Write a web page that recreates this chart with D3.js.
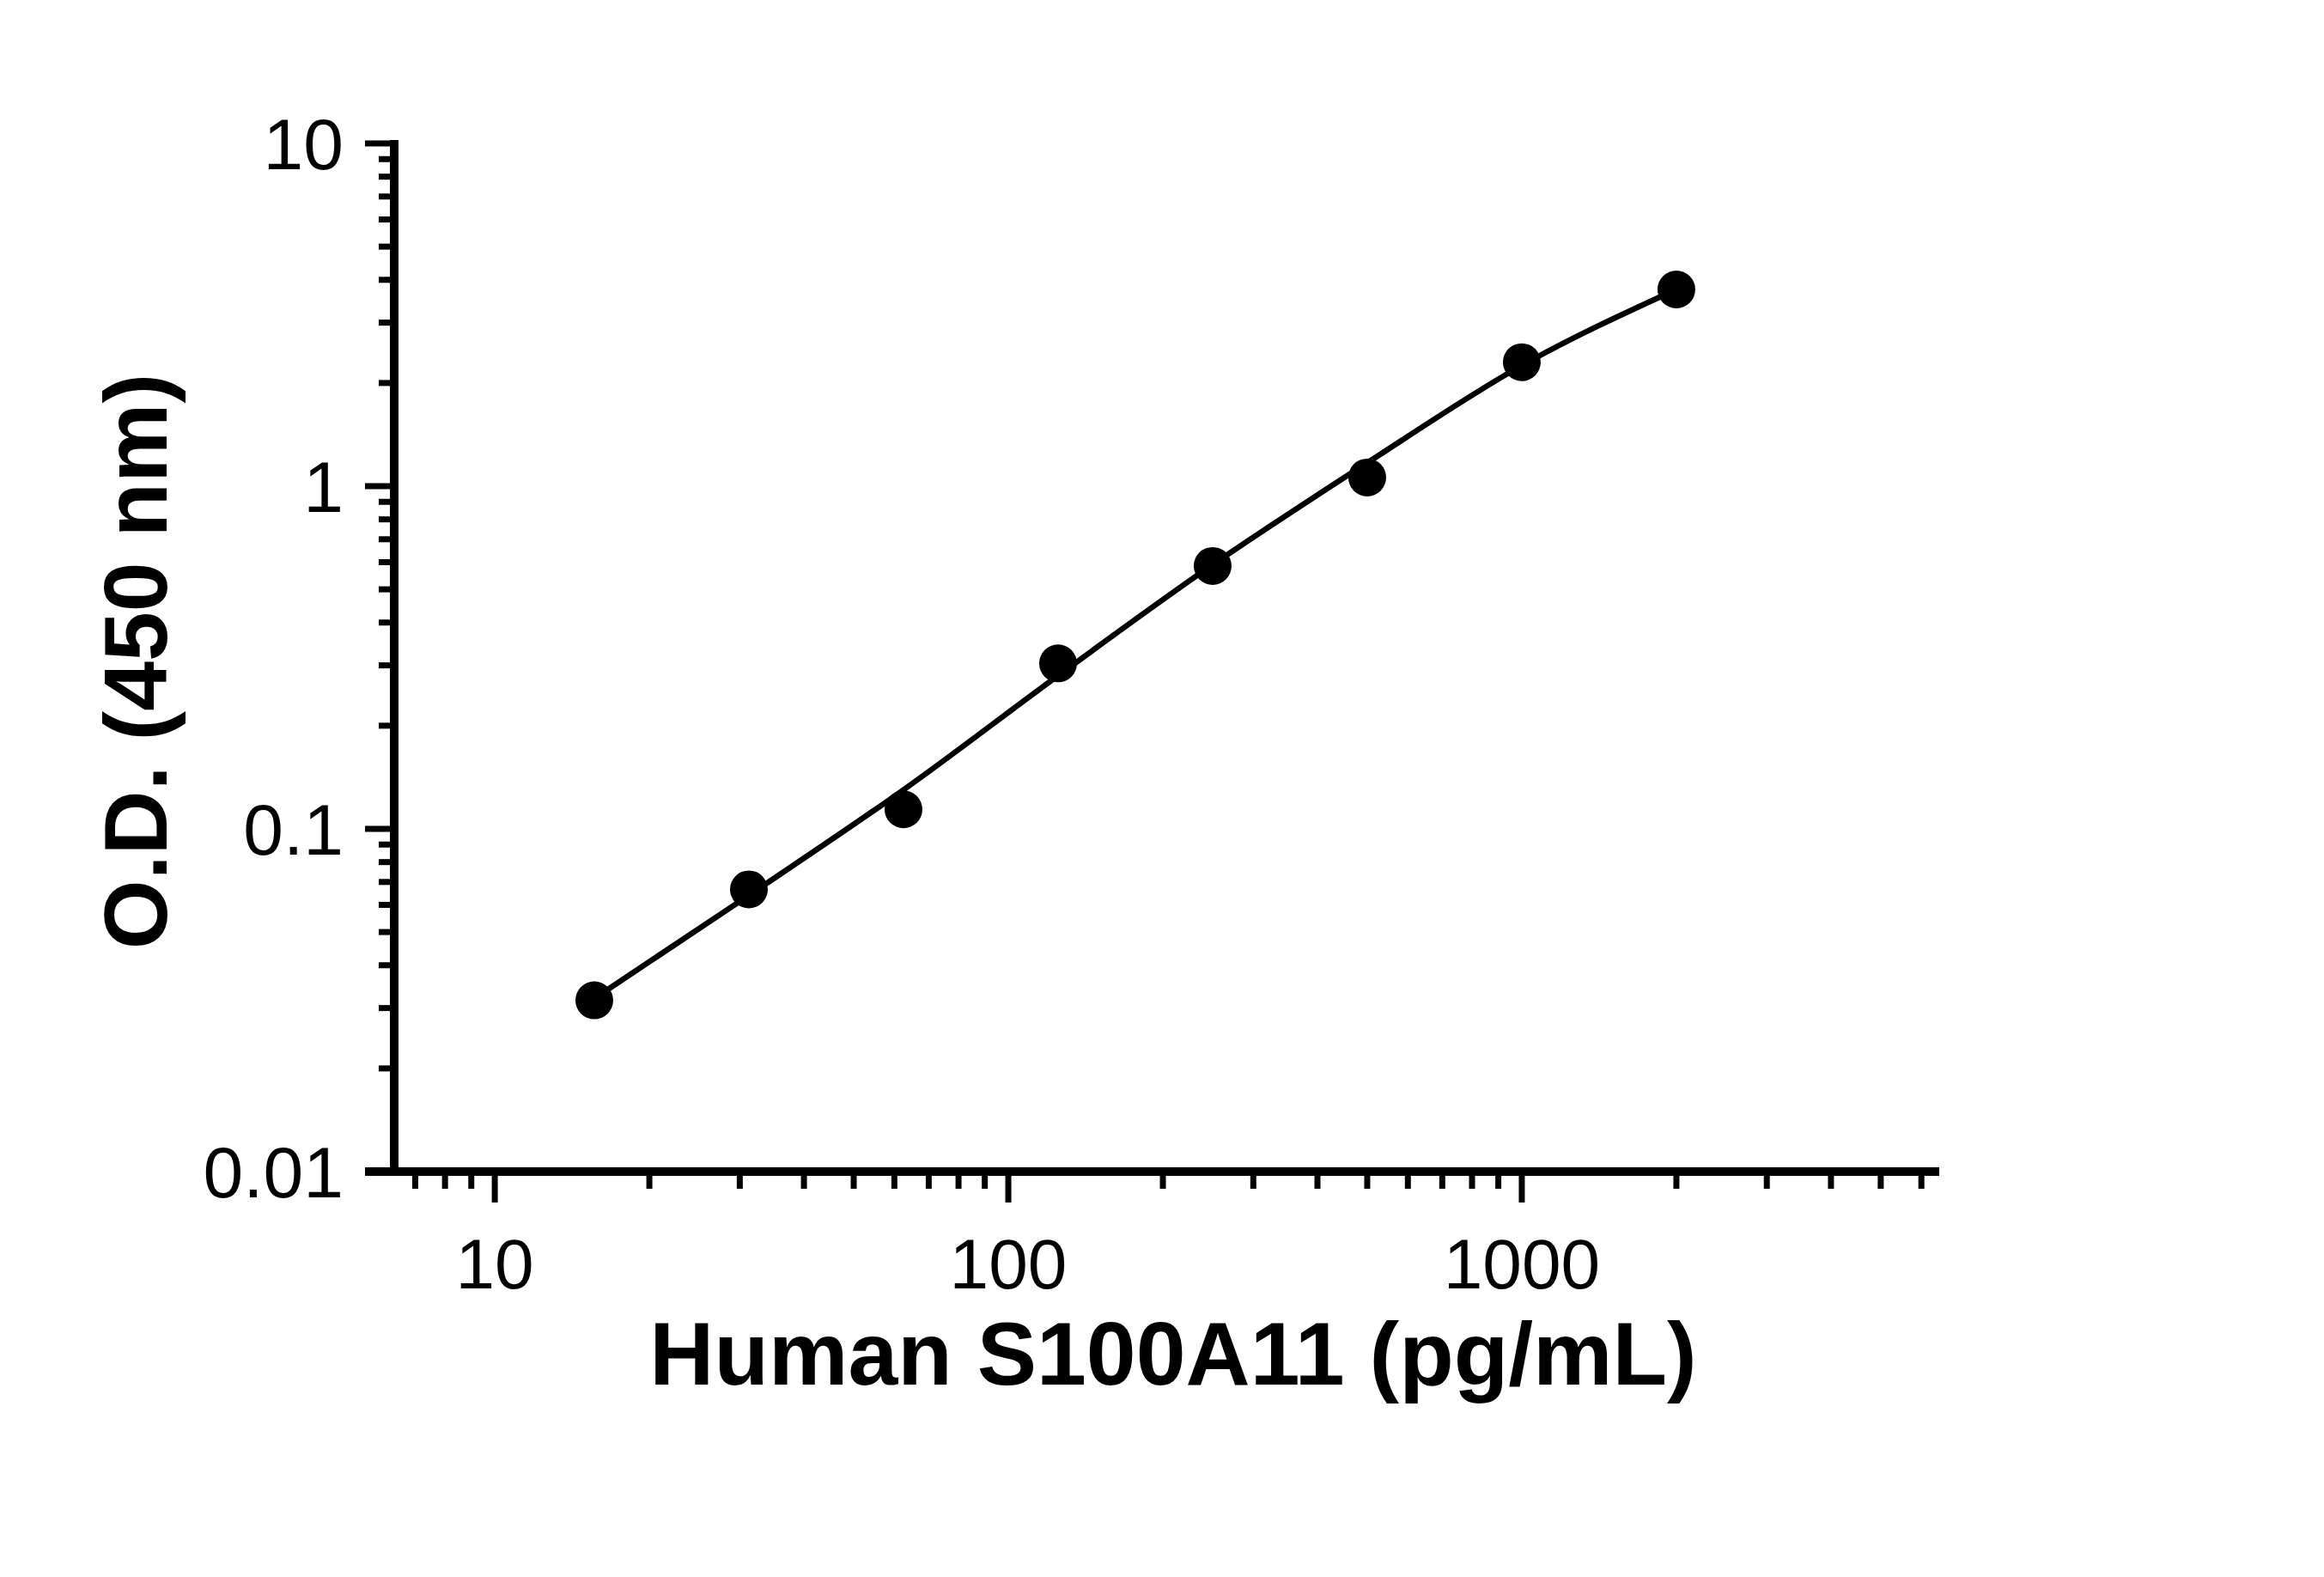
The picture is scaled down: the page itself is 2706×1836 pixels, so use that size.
<!DOCTYPE html>
<html><head><meta charset="utf-8">
<script src="https://cdn.jsdelivr.net/npm/d3@7"></script>
<style>body{margin:0;background:#fff}</style></head>
<body><svg id="c" width="2706" height="1836"></svg>
<script>
const conc = [15.625, 31.25, 62.5, 125, 250, 500, 1000, 2000];
const od = [0.0316, 0.0666, 0.114, 0.304, 0.585, 1.06, 2.30, 3.75];
const fitOD = [0.032, 0.064, 0.130, 0.28, 0.59, 1.17, 2.25, 3.75];
const xTickLabels = ["10", "100", "1000"];
const yTickLabels = ["0.01", "0.1", "1", "10"];
const xTitle = "Human S100A11 (pg/mL)";
const yTitle = "O.D. (450 nm)";

const svg = d3.select("#c");
const L = 459, R = 2258, T = 167, B = 1364;
const x = d3.scaleLog().domain([6.37, 6500]).range([L, R]);
const y = d3.scaleLog().domain([0.01, 10]).range([B, T]);
const font = "'Liberation Sans', Arial, sans-serif";

const xMinor = [];
for (let d = 1; d <= 1000; d *= 10) for (let m = 1; m < 10; m++) { const v = d * m; if (v >= 6.5 && v <= 6000) xMinor.push(v); }
const yMinor = [];
for (let d = 0.01; d < 10; d *= 10) for (let m = 1; m < 10; m++) yMinor.push(d * m);
yMinor.push(10);

const g = svg.append("g").attr("stroke", "#000");
g.selectAll(".xm").data(xMinor).join("line")
  .attr("x1", d => x(d)).attr("x2", d => x(d)).attr("y1", B)
  .attr("y2", d => xTickLabels.includes(String(d)) ? B + 36 : B + 20).attr("stroke-width", 7);
g.selectAll(".ym").data(yMinor).join("line")
  .attr("y1", d => y(d)).attr("y2", d => y(d)).attr("x1", L)
  .attr("x2", d => (Math.abs(Math.log10(d) - Math.round(Math.log10(d))) < 1e-6) ? L - 34 : L - 18).attr("stroke-width", 7);
g.append("line").attr("x1", L).attr("x2", L).attr("y1", T - 4).attr("y2", B + 4).attr("stroke-width", 10);
g.append("line").attr("x1", L - 34).attr("x2", R).attr("y1", B).attr("y2", B).attr("stroke-width", 10);

xTickLabels.forEach(t => {
  svg.append("text").attr("transform", `translate(${x(+t)},1500) scale(1.0,1)`)
    .attr("text-anchor", "middle").attr("font-family", font).attr("font-size", 82).text(t);
});
yTickLabels.forEach(t => {
  svg.append("text").attr("x", 400).attr("y", y(+t) + 30)
    .attr("text-anchor", "end").attr("font-family", font).attr("font-size", 84).text(t);
});

svg.append("text").attr("transform", "translate(1366,1612)")
  .attr("text-anchor", "middle").attr("font-family", font).attr("font-weight", "bold")
  .attr("font-size", 104).text(xTitle);
svg.append("text").attr("transform", "translate(194,770) rotate(-90)")
  .attr("text-anchor", "middle").attr("font-family", font).attr("font-weight", "bold")
  .attr("font-size", 104).text(yTitle);

const line = d3.line().x((d, i) => x(conc[i])).y(d => y(d)).curve(d3.curveMonotoneX);
svg.append("path").datum(fitOD).attr("d", line).attr("fill", "none")
  .attr("stroke", "#000").attr("stroke-width", 6.5);

svg.selectAll(".pt").data(od).join("circle")
  .attr("cx", (d, i) => x(conc[i])).attr("cy", d => y(d)).attr("r", 22).attr("fill", "#000");
</script></body></html>
